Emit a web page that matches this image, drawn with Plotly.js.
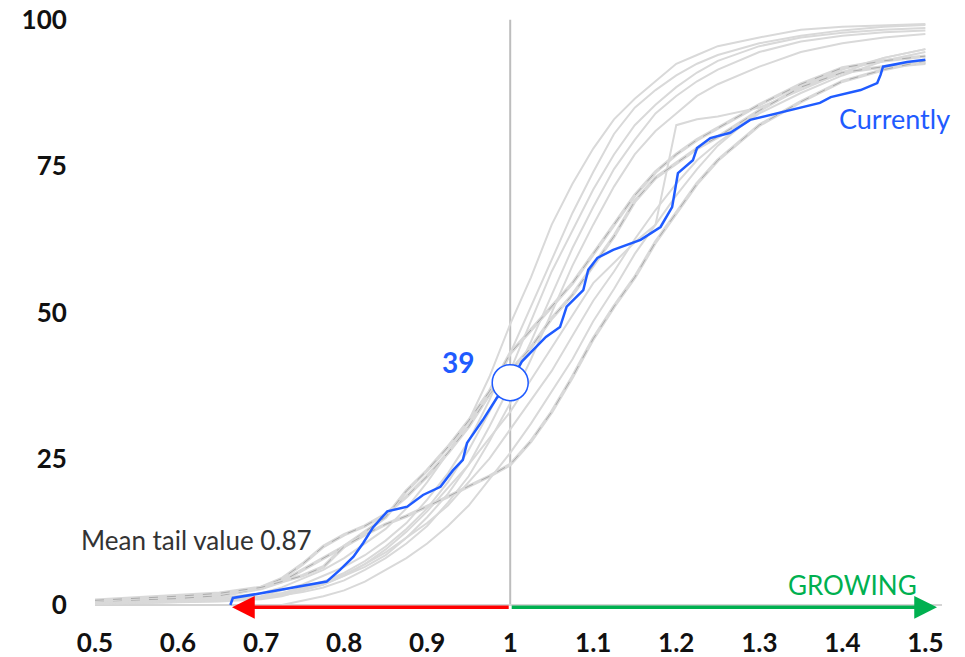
<!DOCTYPE html>
<html>
<head>
<meta charset="utf-8">
<script src="https://cdn.plot.ly/plotly-3.0.1.min.js"></script>
<style>html,body{margin:0;padding:0;background:#fff}#chart{width:965px;height:657px}</style>
</head>
<body>
<div id="chart"></div>
<script>
// Shared x grid for the grey history curves
const grayX = [0.5,0.6,0.65,0.7,0.725,0.75,0.775,0.8,0.825,0.85,0.875,0.9,0.925,0.95,0.975,1.0,1.025,1.05,1.075,1.1,1.125,1.15,1.175,1.2,1.225,1.25,1.3,1.35,1.4,1.45,1.5];

// Grey curves (solid)
const grayF1 = [0.4,0.8,1.2,2,3,4.5,6,8,10.5,13,16.5,21,26,31.5,39,48,56,65,72,78,83,86.5,89.5,92.5,94,95.5,97,98.3,98.8,99.1,99.3];
const grayF2 = [0.3,0.6,1,1.5,2.5,3.5,5,6.5,8.5,11,14,18,22.5,28,35,43,51,59,67,74,80.5,85,88,90.5,92.5,94,96,97.3,98.2,98.8,99.1];
const grayF3 = [0.2,0.5,0.8,1.2,2,3,4,5.5,7.5,10,13,16.5,21,26.5,33,40,48.5,57,64,71,77,82,85.5,88.5,91,93,95.5,97,97.8,98.3,98.6];
const grayF4 = [0.2,0.4,0.6,1,1.5,2.5,3.5,5,6.5,8.5,11.5,15,19,24,30.5,37.5,45,53,61,68,74.5,79.5,84,87,89.5,91.5,94.5,96.3,97.3,97.9,98.2];
const grayF5 = [0.3,0.5,0.7,1.1,1.6,2.2,3,4.2,6,8,10.5,13.5,17.5,22,28,34.5,42,50,58,65,71.5,77,81,84,87,89,92,94.5,96,97,97.6];
const grayS3 = [0.3,0.5,0.8,1.2,1.8,2.5,3.5,5,7,9,11.5,14,17,21,25,30,35,40,46,52,57,62.5,67.5,72,76,79,84,87.5,90.5,93,94.5];
const grayS4 = [null,null,null,null,0,0.8,1.5,2.5,4,6,8,10.5,13.5,17,21.5,26,31,36.5,42,48.5,54,60,65,70,74.5,78.5,84.5,88.5,91.5,93.5,95];
const grayS5 = [0.3,0.6,0.9,1.4,2,2.8,3.8,5.2,7,9.5,12.5,16,20,24,28.5,33,38.5,44,49.5,55,58.5,62,65,82,83,83.5,85,88,91,93.5,95];
// Grey curves drawn with a darker dashed core
const grayD1 = [0.5,1,1.5,3,4.5,7,10,12,13.5,15.5,18.5,22,26,30.5,36,40,44,49,53,58,63,69,73,75.5,78,80,84.5,88.5,91,92,92.6];
const grayD2 = [0.6,1.1,1.6,2.8,4,6,8,10,12.5,15,19.5,23,27,31.5,36.5,43,47,51,55,60,65,70,74,77,79.5,81.5,85.5,89,91.8,93,93.8];
const grayD3 = [0.8,1.5,2,3,4,5,6.5,10,12,13.8,15.2,16.8,18.5,20.3,22,24,28,33,39,45.5,51,56,62,67,72,76,82,86,89.5,91.5,93];

const solidGray = [grayF1, grayF2, grayF3, grayF4, grayF5, grayS3, grayS4, grayS5];
const dashedGray = [grayD1, grayD2, grayD3];

// Current curve (blue)
const blueX = [0.663,0.666,0.7,0.75,0.779,0.795,0.811,0.823,0.835,0.852,0.876,0.895,0.916,0.931,0.943,0.948,0.967,0.984,1.0,1.014,1.036,1.043,1.06,1.068,1.088,1.094,1.105,1.124,1.157,1.181,1.195,1.202,1.22,1.225,1.241,1.265,1.289,1.325,1.373,1.386,1.422,1.442,1.446,1.449,1.478,1.5];
const blueY = [0,1.2,2,3.2,4,6,8.2,10.6,13.3,16,16.8,18.8,20.2,23,24.8,27.7,31.6,35.4,38,41.6,44.8,45.8,47.5,51,53.8,57.3,59.3,60.7,62.4,64.6,68,73.8,76,78.1,79.8,80.7,82.9,84.1,85.8,86.8,88,89.2,90.6,92,92.8,93.2];

const currentX = [1];
const currentY = [38];
const currentLabel = '39';

const xTicks = [0.5,0.6,0.7,0.8,0.9,1,1.1,1.2,1.3,1.4,1.5];
const xTickText = ['0.5','0.6','0.7','0.8','0.9','1','1.1','1.2','1.3','1.4','1.5'];
const yTicks = [0,25,50,75,100];
const yTickText = ['0','25','50','75','100'];

const BLUE = '#1F5BFF';
const GRAY = '#d9d9d9';
const RED = '#FF0000';
const GREEN = '#00B050';
const FONT = 'Lato, "Open Sans", sans-serif';

const traces = [];
solidGray.forEach(ys => traces.push({x: grayX, y: ys, type: 'scatter', mode: 'lines', line: {color: GRAY, width: 2}, hoverinfo: 'skip', connectgaps: false}));
dashedGray.forEach(ys => {
  traces.push({x: grayX, y: ys, type: 'scatter', mode: 'lines', line: {color: GRAY, width: 3.5}, hoverinfo: 'skip'});
  traces.push({x: grayX, y: ys, type: 'scatter', mode: 'lines', line: {color: '#ababab', width: 1, dash: 'dash'}, hoverinfo: 'skip'});
});
traces.push({x: blueX, y: blueY, type: 'scatter', mode: 'lines', line: {color: BLUE, width: 2.5}, name: 'Currently'});
traces.push({x: currentX, y: currentY, type: 'scatter', mode: 'markers', marker: {size: 36, color: '#ffffff', line: {color: BLUE, width: 1.5}}, cliponaxis: false});

const layout = {
  width: 965, height: 657,
  margin: {l: 95, r: 23, t: 14, b: 45},
  paper_bgcolor: '#ffffff', plot_bgcolor: '#ffffff',
  showlegend: false,
  font: {family: FONT, color: '#111'},
  xaxis: {
    range: [0.5, 1.52], tickvals: xTicks, ticktext: xTickText,
    showgrid: false, zeroline: false, showline: false,
    ticks: 'outside', ticklen: 8, tickcolor: 'rgba(0,0,0,0)',
    tickfont: {family: FONT, size: 26, color: '#111', weight: 'bold'}
  },
  yaxis: {
    range: [-1.2, 101], tickvals: yTicks, ticktext: yTickText,
    showgrid: false, zeroline: true, zerolinecolor: '#d4d4d4', zerolinewidth: 2, showline: false,
    ticks: 'outside', ticklen: 22, tickcolor: 'rgba(0,0,0,0)',
    tickfont: {family: FONT, size: 26, color: '#111', weight: 'bold'}
  },
  shapes: [
    {type: 'line', xref: 'x', yref: 'y', x0: 1, x1: 1, y0: 0, y1: 100, line: {color: '#bdbdbd', width: 2}, layer: 'below'}
  ],
  annotations: [
    {x: 0.665, y: -0.4, ax: 1, ay: -0.4, xref: 'x', yref: 'y', axref: 'x', ayref: 'y', text: '', showarrow: true, arrowhead: 2, arrowsize: 1.3, arrowwidth: 3.5, arrowcolor: RED},
    {x: 1.514, y: -0.4, ax: 1, ay: -0.4, xref: 'x', yref: 'y', axref: 'x', ayref: 'y', text: '', showarrow: true, arrowhead: 2, arrowsize: 1.3, arrowwidth: 3.5, arrowcolor: GREEN},
    {x: 1.412, y: 3.4, xref: 'x', yref: 'y', text: 'GROWING', showarrow: false, font: {family: FONT, size: 26, color: GREEN}},
    {x: 0.622, y: 11.1, xref: 'x', yref: 'y', text: 'Mean tail value 0.87', showarrow: false, font: {family: FONT, size: 26, color: '#333'}},
    {x: 1.393, y: 83.2, xref: 'x', yref: 'y', xanchor: 'left', text: 'Currently', showarrow: false, font: {family: FONT, size: 27, color: BLUE}},
    {x: 0.937, y: 41.5, xref: 'x', yref: 'y', text: currentLabel, showarrow: false, font: {family: FONT, size: 28, color: BLUE, weight: 'bold'}}
  ]
};

Plotly.newPlot('chart', traces, layout, {displayModeBar: false, staticPlot: true});
</script>
</body>
</html>
